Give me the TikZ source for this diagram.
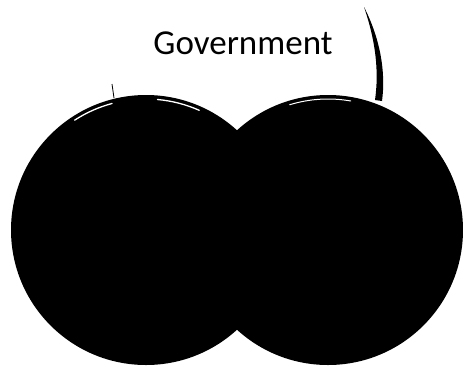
\documentclass[tikz,border=0pt]{standalone}
\usepackage{fontspec}
\setmainfont{Carlito}
\begin{document}
\begin{tikzpicture}[x=1pt,y=-1pt,
  blob/.style={fill=black,draw=none},
  shine/.style={draw=white,line width=1.3pt,line cap=round}]
\useasboundingbox (0,0) rectangle (463,365);
\fill[white] (0,0) rectangle (463,365);
% circles
\node[blob,circle,minimum size=270pt,inner sep=0pt] (left) at (146,230) {};
\node[blob,circle,minimum size=270pt,inner sep=0pt] (right) at (328,230) {};
% highlights
\draw[shine] ([shift={(-123:131)}]146,230) arc[start angle=-123,end angle=-105,radius=131];
\draw[shine] ([shift={(-85:131)}]146,230) arc[start angle=-85,end angle=-66,radius=131];
\draw[shine,line width=1pt] ([shift={(-107:131)}]328,230) arc[start angle=-107,end angle=-80,radius=131];
% label
\node[font=\fontsize{35}{42}\selectfont] (gov) at (243,43) {Government};
% curved arc top right (tapered)
\fill[black] (364,7) .. controls (380,38) and (386,72) .. (382,101)
  -- (375,100) .. controls (379,72) and (376,42) .. (364,7) -- cycle;
% small tick on left circle
\draw[black,line width=0.8pt] (112,84) -- (114,98);
\end{tikzpicture}
\end{document}
